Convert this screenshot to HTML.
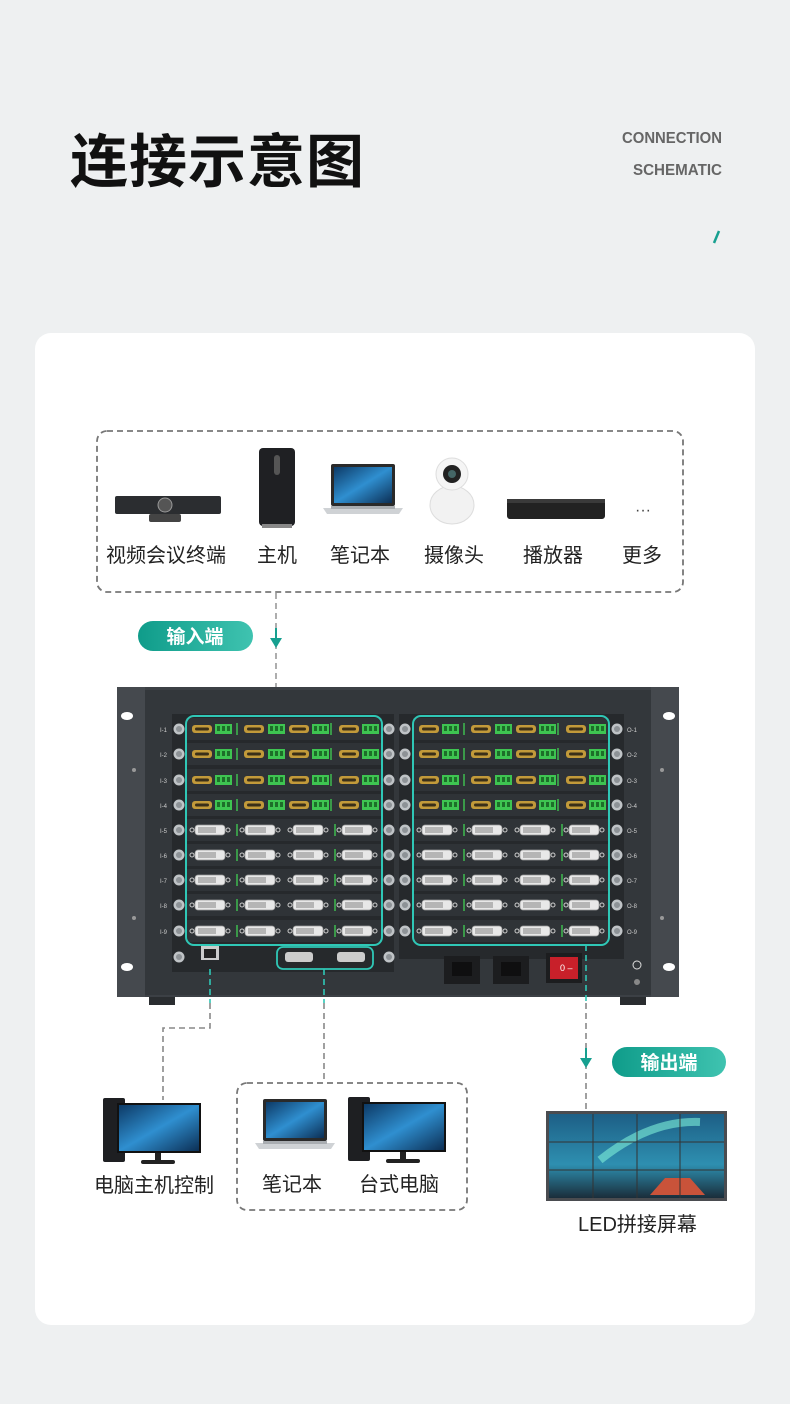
<!DOCTYPE html>
<html><head><meta charset="utf-8"><style>
html,body{margin:0;padding:0;background:#eef0f1;}
svg{display:block}
text{font-family:"Liberation Sans","Noto Sans CJK SC",sans-serif;}
</style></head><body>
<svg width="790" height="1404" viewBox="0 0 790 1404" xmlns="http://www.w3.org/2000/svg">
<defs>
<linearGradient id="tg" x1="0" x2="1"><stop offset="0" stop-color="#0f9c8a"/><stop offset="1" stop-color="#3fc3b0"/></linearGradient>
<linearGradient id="sky" x1="0" y1="0" x2="0" y2="1"><stop offset="0" stop-color="#1d5f86"/><stop offset="0.6" stop-color="#2e8fb0"/><stop offset="1" stop-color="#1a2d3a"/></linearGradient>
<linearGradient id="scr" x1="0" y1="0" x2="1" y2="1"><stop offset="0" stop-color="#0d3a66"/><stop offset="0.5" stop-color="#2f8fd0"/><stop offset="1" stop-color="#0c2f55"/></linearGradient>
<g id="hd"><rect x="0" y="-4" width="20" height="8" rx="3" fill="#c29a3a"/><rect x="3" y="-1.5" width="14" height="3" rx="1.5" fill="#3a2f18"/></g>
<g id="gr"><rect x="0" y="-5" width="17" height="10" fill="#3ec451"/><rect x="2" y="-3" width="3" height="5" fill="#1d6e29"/><rect x="7" y="-3" width="3" height="5" fill="#1d6e29"/><rect x="12" y="-3" width="3" height="5" fill="#1d6e29"/></g>
<g id="dv"><circle cx="0" cy="0" r="2" fill="none" stroke="#ccc"/><rect x="3" y="-5" width="30" height="10" rx="3" fill="#e8e8e8" stroke="#999" stroke-width="0.7"/><rect x="6" y="-3" width="18" height="6" fill="#b5b5b5"/><circle cx="36" cy="0" r="2" fill="none" stroke="#ccc"/></g>
<g id="hrow"><rect x="0" y="-11" width="196" height="22" fill="#2f3337"/><use href="#hd" x="6"/><use href="#gr" x="29"/><use href="#hd" x="58"/><use href="#gr" x="82"/><use href="#hd" x="103"/><use href="#gr" x="126"/><use href="#hd" x="153"/><use href="#gr" x="176"/><rect x="50" y="-6" width="2" height="12" fill="#3ec451" opacity=".7"/><rect x="144" y="-6" width="2" height="12" fill="#3ec451" opacity=".7"/></g>
<g id="drow"><rect x="0" y="-11" width="196" height="22" fill="#2f3337"/><use href="#dv" x="6"/><use href="#dv" x="56"/><use href="#dv" x="104"/><use href="#dv" x="153"/><rect x="50" y="-6" width="2" height="12" fill="#3ec451" opacity=".7"/><rect x="148" y="-6" width="2" height="12" fill="#3ec451" opacity=".7"/></g>
<g id="knob"><circle r="5.5" fill="#bfc3c6"/><circle r="3" fill="#8d9296"/></g>
<g id="pc"><rect x="0" y="0" width="22" height="64" rx="2" fill="#1e1f22"/><rect x="14" y="5" width="84" height="50" fill="#111"/><rect x="16" y="7" width="80" height="46" fill="url(#scr)"/><rect x="52" y="55" width="6" height="8" fill="#222"/><rect x="38" y="62" width="34" height="4" rx="2" fill="#222"/></g>
<g id="lap"><rect x="8" y="0" width="64" height="42" rx="2" fill="#2a2a2a"/><rect x="11" y="3" width="58" height="36" fill="url(#scr)"/><path d="M0 44 H80 L76 50 H4 Z" fill="#cfd2d5"/><rect x="8" y="42" width="64" height="3" fill="#a9adb1"/></g>
</defs>

<text x="70" y="182" font-size="58" font-weight="bold" fill="#111" letter-spacing="1">连接示意图</text>
<text x="722" y="143" font-size="16" font-weight="bold" fill="#666" text-anchor="end" textLength="100" lengthAdjust="spacingAndGlyphs">CONNECTION</text>
<text x="722" y="175" font-size="16" font-weight="bold" fill="#666" text-anchor="end" textLength="89" lengthAdjust="spacingAndGlyphs">SCHEMATIC</text>
<path d="M719 231 L714 243" stroke="#17a090" stroke-width="2.5"/>

<rect x="35" y="333" width="720" height="992" rx="16" fill="#fff"/>

<rect x="97" y="431" width="586" height="161" rx="10" fill="none" stroke="#777" stroke-width="1.8" stroke-dasharray="6,4"/>
<rect x="115" y="496" width="106" height="18" rx="2" fill="#2b2d30"/><circle cx="165" cy="505" r="7" fill="#555" stroke="#999"/><rect x="149" y="514" width="32" height="8" rx="2" fill="#444"/>
<rect x="259" y="448" width="36" height="78" rx="4" fill="#1f2023"/><rect x="274" y="455" width="6" height="20" rx="3" fill="#555"/><rect x="262" y="524" width="30" height="4" fill="#888"/>
<use href="#lap" x="323" y="464"/>
<ellipse cx="452" cy="505" rx="22" ry="19" fill="#f2f2f2" stroke="#ddd"/><circle cx="452" cy="474" r="16" fill="#f5f5f5" stroke="#ddd"/><circle cx="452" cy="474" r="9" fill="#222"/><circle cx="452" cy="474" r="4" fill="#466"/>
<rect x="507" y="499" width="98" height="20" rx="3" fill="#222"/><rect x="507" y="499" width="98" height="4" fill="#3a3a3a"/>
<text x="643" y="515" font-size="16" fill="#444" text-anchor="middle">···</text>
<g font-size="20" fill="#222">
<text x="106" y="562">视频会议终端</text><text x="257" y="562">主机</text><text x="330" y="562">笔记本</text><text x="424" y="562">摄像头</text><text x="523" y="562">播放器</text><text x="622" y="562">更多</text>
</g>

<path d="M276 593 V688" stroke="#999" stroke-width="1.6" stroke-dasharray="6,4"/>
<path d="M276 628 V642" stroke="#17a090" stroke-width="2"/><path d="M270 638 L276 648 L282 638 Z" fill="#17a090"/>
<rect x="138" y="621" width="115" height="30" rx="15" fill="url(#tg)"/>
<text x="195" y="643" font-size="19" font-weight="bold" fill="#fff" text-anchor="middle">输入端</text>

<rect x="149" y="995" width="26" height="10" fill="#2a2d30"/><rect x="620" y="995" width="26" height="10" fill="#2a2d30"/>
<rect x="117" y="687" width="562" height="310" fill="#3c4045"/>
<rect x="117" y="687" width="28" height="310" fill="#45494e"/><rect x="651" y="687" width="28" height="310" fill="#45494e"/>
<rect x="145" y="690" width="506" height="305" fill="#33373b"/>
<ellipse cx="127" cy="716" rx="6" ry="4" fill="#fff"/><ellipse cx="127" cy="967" rx="6" ry="4" fill="#fff"/><ellipse cx="669" cy="716" rx="6" ry="4" fill="#fff"/><ellipse cx="669" cy="967" rx="6" ry="4" fill="#fff"/>
<circle cx="134" cy="770" r="2" fill="#999"/><circle cx="134" cy="918" r="2" fill="#999"/><circle cx="662" cy="770" r="2" fill="#999"/><circle cx="662" cy="918" r="2" fill="#999"/>
<rect x="172" y="714" width="222" height="258" fill="#26292c"/>
<rect x="399" y="714" width="225" height="245" fill="#26292c"/>
<g>
<use href="#hrow" x="186" y="729"/><use href="#hrow" x="186" y="754"/><use href="#hrow" x="186" y="780"/><use href="#hrow" x="186" y="805"/>
<use href="#drow" x="186" y="830"/><use href="#drow" x="186" y="855"/><use href="#drow" x="186" y="880"/><use href="#drow" x="186" y="905"/><use href="#drow" x="186" y="931"/>
<use href="#hrow" x="413" y="729"/><use href="#hrow" x="413" y="754"/><use href="#hrow" x="413" y="780"/><use href="#hrow" x="413" y="805"/>
<use href="#drow" x="413" y="830"/><use href="#drow" x="413" y="855"/><use href="#drow" x="413" y="880"/><use href="#drow" x="413" y="905"/><use href="#drow" x="413" y="931"/>
</g>
<g>
<use href="#knob" x="179" y="729"/><use href="#knob" x="179" y="754"/><use href="#knob" x="179" y="780"/><use href="#knob" x="179" y="805"/><use href="#knob" x="179" y="830"/><use href="#knob" x="179" y="855"/><use href="#knob" x="179" y="880"/><use href="#knob" x="179" y="905"/><use href="#knob" x="179" y="931"/><use href="#knob" x="179" y="957"/>
<use href="#knob" x="389" y="729"/><use href="#knob" x="389" y="754"/><use href="#knob" x="389" y="780"/><use href="#knob" x="389" y="805"/><use href="#knob" x="389" y="830"/><use href="#knob" x="389" y="855"/><use href="#knob" x="389" y="880"/><use href="#knob" x="389" y="905"/><use href="#knob" x="389" y="931"/><use href="#knob" x="389" y="957"/>
<use href="#knob" x="405" y="729"/><use href="#knob" x="405" y="754"/><use href="#knob" x="405" y="780"/><use href="#knob" x="405" y="805"/><use href="#knob" x="405" y="830"/><use href="#knob" x="405" y="855"/><use href="#knob" x="405" y="880"/><use href="#knob" x="405" y="905"/><use href="#knob" x="405" y="931"/>
<use href="#knob" x="617" y="729"/><use href="#knob" x="617" y="754"/><use href="#knob" x="617" y="780"/><use href="#knob" x="617" y="805"/><use href="#knob" x="617" y="830"/><use href="#knob" x="617" y="855"/><use href="#knob" x="617" y="880"/><use href="#knob" x="617" y="905"/><use href="#knob" x="617" y="931"/>
</g>
<g fill="#ccc" font-size="6"><text x="160" y="732">I-1</text><text x="160" y="757">I-2</text><text x="160" y="783">I-3</text><text x="160" y="808">I-4</text><text x="160" y="833">I-5</text><text x="160" y="858">I-6</text><text x="160" y="883">I-7</text><text x="160" y="908">I-8</text><text x="160" y="934">I-9</text>
<text x="627" y="732">O-1</text><text x="627" y="757">O-2</text><text x="627" y="783">O-3</text><text x="627" y="808">O-4</text><text x="627" y="833">O-5</text><text x="627" y="858">O-6</text><text x="627" y="883">O-7</text><text x="627" y="908">O-8</text><text x="627" y="934">O-9</text></g>
<rect x="186" y="716" width="196" height="229" rx="8" fill="none" stroke="#2fc7b6" stroke-width="2"/>
<rect x="413" y="716" width="196" height="229" rx="8" fill="none" stroke="#2fc7b6" stroke-width="2"/>
<rect x="201" y="946" width="18" height="14" fill="#ccc"/><rect x="204" y="949" width="12" height="9" fill="#222"/>
<rect x="277" y="947" width="96" height="22" rx="6" fill="none" stroke="#2fc7b6" stroke-width="1.8"/>
<rect x="285" y="952" width="28" height="10" rx="3" fill="#ccc"/><rect x="337" y="952" width="28" height="10" rx="3" fill="#ccc"/>
<rect x="444" y="956" width="36" height="28" fill="#1c1d1f"/><rect x="493" y="956" width="36" height="28" fill="#1c1d1f"/>
<rect x="452" y="962" width="20" height="14" fill="#0f0f10"/><rect x="501" y="962" width="20" height="14" fill="#0f0f10"/>
<rect x="546" y="953" width="36" height="30" fill="#1c1d1f"/><rect x="550" y="957" width="28" height="22" fill="#c8202a"/>
<text x="560" y="971" font-size="9" fill="#fff">0 –</text>
<circle cx="637" cy="965" r="4" fill="none" stroke="#ddd"/><circle cx="637" cy="982" r="3" fill="#888"/>

<path d="M210 969 V1003" stroke="#2fc7b6" stroke-width="1.6" stroke-dasharray="6,4"/>
<path d="M324 969 V1003" stroke="#2fc7b6" stroke-width="1.6" stroke-dasharray="6,4"/>
<path d="M586 945 V1003" stroke="#2fc7b6" stroke-width="1.6" stroke-dasharray="6,4"/>
<path d="M210 1003 V1028 H163 V1100" fill="none" stroke="#888" stroke-width="1.6" stroke-dasharray="6,4"/>
<path d="M324 1003 V1083" stroke="#888" stroke-width="1.6" stroke-dasharray="6,4"/>
<path d="M586 1003 V1110" stroke="#888" stroke-width="1.6" stroke-dasharray="6,4"/>
<path d="M586 1048 V1062" stroke="#17a090" stroke-width="2"/><path d="M580 1058 L586 1068 L592 1058 Z" fill="#17a090"/>
<rect x="612" y="1047" width="114" height="30" rx="15" fill="url(#tg)"/>
<text x="669" y="1069" font-size="19" font-weight="bold" fill="#fff" text-anchor="middle">输出端</text>

<use href="#pc" x="103" y="1098"/>
<text x="94" y="1192" font-size="20" fill="#222">电脑主机控制</text>
<rect x="237" y="1083" width="230" height="127" rx="10" fill="none" stroke="#777" stroke-width="1.8" stroke-dasharray="6,4"/>
<use href="#lap" x="255" y="1099"/>
<use href="#pc" x="348" y="1097"/>
<text x="262" y="1191" font-size="20" fill="#222">笔记本</text>
<text x="359" y="1191" font-size="20" fill="#222">台式电脑</text>
<rect x="546" y="1111" width="181" height="90" fill="#4a4c50"/>
<rect x="549" y="1114" width="175" height="84" fill="url(#sky)"/>
<path d="M600 1160 Q650 1120 700 1122" stroke="#7ff0d8" stroke-width="8" fill="none" opacity=".6"/>
<path d="M650 1195 L665 1178 L690 1178 L705 1195 Z" fill="#c9533a"/>
<g stroke="#333" stroke-width="1"><path d="M593 1114 V1198 M637 1114 V1198 M680 1114 V1198 M549 1142 H724 M549 1170 H724"/></g>
<text x="578" y="1231" font-size="20" fill="#222">LED拼接屏幕</text>
</svg>
</body></html>
